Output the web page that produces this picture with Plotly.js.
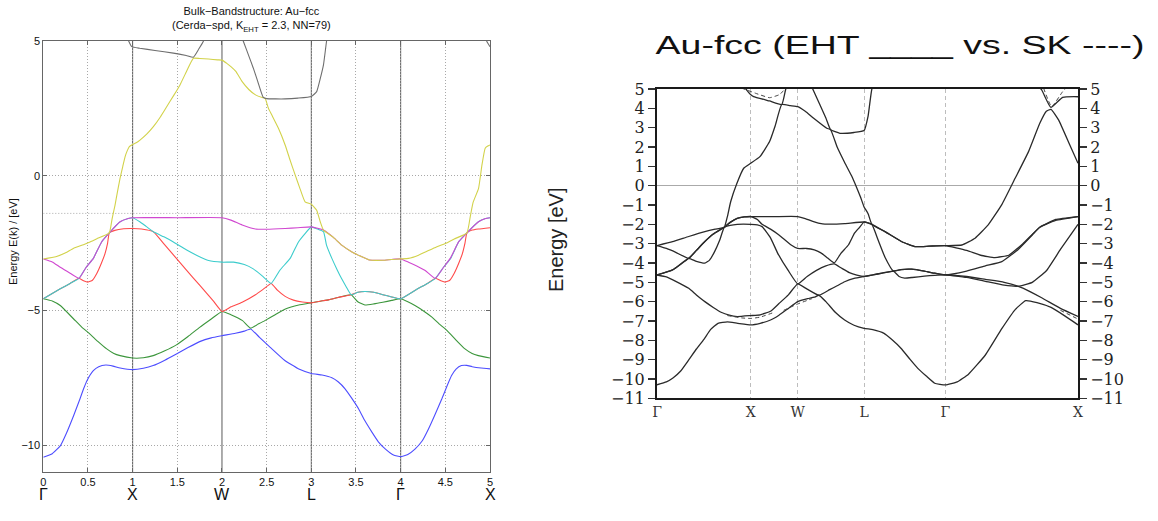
<!DOCTYPE html>
<html><head><meta charset="utf-8">
<script src="https://cdn.plot.ly/plotly-3.0.1.min.js"></script>
<style>html,body{margin:0;padding:0;background:#fff}#chart{width:1158px;height:521px}</style>
</head><body><div id="chart"></div>
<script>
// ---------- LEFT PANEL: EHT band structure (coloured) ----------
const lSymK = [0, 1, 2, 3, 4, 5];
const lSymLabels = ['Γ', 'X', 'W', 'L', 'Γ', 'X'];
const lYTicks = [-10, -5, 0, 5];
const fermiE = -1.4;

const lBlueK = [0,0.1,0.19,0.26,0.34,0.41,0.45,0.49,0.56,0.62,0.7,0.78,0.86,1.0,1.12,1.23,1.36,1.49,1.62,1.75,1.88,2.0,2.15,2.25,2.32,2.42,2.54,2.7,2.86,3.0,3.12,3.23,3.3,3.38,3.45,3.53,3.6,3.68,3.75,3.83,3.92,4.0,4.08,4.16,4.24,4.31,4.38,4.46,4.52,4.57,4.62,4.68,4.74,4.8,4.9,5.0];
const lBlueE = [-10.45,-10.32,-10.03,-9.55,-8.9,-8.29,-7.92,-7.6,-7.24,-7.09,-7.03,-7.07,-7.14,-7.2,-7.15,-7.05,-6.85,-6.62,-6.38,-6.16,-6.02,-5.94,-5.85,-5.77,-5.69,-6.0,-6.37,-6.85,-7.18,-7.34,-7.4,-7.5,-7.65,-7.92,-8.25,-8.66,-9.1,-9.53,-9.88,-10.15,-10.37,-10.43,-10.35,-10.15,-9.85,-9.41,-8.9,-8.29,-7.8,-7.42,-7.18,-7.05,-7.04,-7.09,-7.14,-7.17];

const lGreenK = [0,0.1,0.19,0.34,0.43,0.52,0.61,0.71,0.79,0.86,1.0,1.12,1.23,1.36,1.49,1.62,1.75,1.88,2.0,2.1,2.23,2.32,2.4,2.48,2.6,2.71,2.86,3.0,3.1,3.2,3.3,3.446,3.52,3.6,3.7,3.8,3.9,4.0,4.08,4.16,4.26,4.35,4.43,4.52,4.62,4.72,4.8,4.87,5.0];
const lGreenE = [-4.57,-4.65,-4.82,-5.32,-5.62,-5.87,-6.15,-6.43,-6.6,-6.68,-6.77,-6.76,-6.68,-6.5,-6.28,-5.97,-5.63,-5.32,-5.04,-5.16,-5.38,-5.66,-5.52,-5.38,-5.15,-4.95,-4.8,-4.72,-4.66,-4.6,-4.52,-4.42,-4.68,-4.8,-4.76,-4.7,-4.63,-4.57,-4.68,-4.82,-5.03,-5.25,-5.5,-5.75,-6.1,-6.43,-6.6,-6.68,-6.77];

const lRedK = [0,0.19,0.3,0.4,0.45,0.5,0.55,0.6,0.65,0.69,0.72,0.739,0.8,0.9,1.0,1.1,1.232,1.35,1.456,1.6,1.755,1.9,2.0,2.1,2.226,2.375,2.46,2.55,2.62,2.707,2.8,2.9,3.0,3.1,3.2,3.3,3.446,3.52,3.6,3.7,3.8,3.9,4.0,4.19,4.3,4.39,4.45,4.5,4.55,4.6,4.65,4.69,4.72,4.742,4.8,4.87,5.0];
const lRedE = [-4.57,-4.2,-4.0,-3.81,-3.9,-3.95,-3.88,-3.62,-3.25,-2.9,-2.5,-2.12,-2.03,-1.97,-1.96,-1.98,-2.08,-2.53,-2.94,-3.5,-4.08,-4.64,-5.04,-4.87,-4.7,-4.42,-4.22,-4.0,-4.25,-4.48,-4.62,-4.69,-4.72,-4.66,-4.6,-4.52,-4.42,-4.33,-4.3,-4.33,-4.42,-4.5,-4.57,-4.2,-4.0,-3.81,-3.9,-3.95,-3.88,-3.62,-3.25,-2.9,-2.5,-2.12,-2.02,-1.98,-1.93];

const lCyanK = [0,0.19,0.3,0.4,0.48,0.56,0.654,0.739,0.86,0.95,1.0,1.08,1.15,1.232,1.35,1.456,1.6,1.72,1.85,2.0,2.13,2.25,2.35,2.45,2.55,2.65,2.763,2.856,2.93,3.0,3.06,3.136,3.17,3.23,3.29,3.34,3.39,3.446,3.52,3.6,3.7,3.8,3.9,4.0,4.19,4.3,4.39,4.48,4.56,4.65,4.742,4.87,4.95,5.0];
const lCyanE = [-4.57,-4.2,-4.0,-3.81,-3.4,-3.07,-2.45,-2.12,-1.71,-1.59,-1.56,-1.71,-1.88,-2.08,-2.27,-2.46,-2.75,-2.96,-3.15,-3.21,-3.21,-3.3,-3.46,-3.72,-4.0,-3.5,-3.07,-2.46,-2.15,-1.9,-1.97,-2.08,-2.58,-3.07,-3.5,-3.83,-4.12,-4.42,-4.33,-4.3,-4.33,-4.42,-4.5,-4.57,-4.2,-4.0,-3.81,-3.4,-3.07,-2.45,-2.12,-1.71,-1.59,-1.56];

const lMagK = [0,0.1,0.19,0.3,0.4,0.48,0.56,0.654,0.739,0.86,0.95,1.0,1.5,2.0,2.1,2.226,2.375,2.5,2.707,2.85,3.0,3.07,3.136,3.25,3.34,3.45,3.565,3.65,3.8,3.9,4.0,4.088,4.18,4.275,4.387,4.48,4.555,4.65,4.742,4.872,4.95,5.0];
const lMagE = [-3.09,-3.2,-3.4,-3.62,-3.81,-3.4,-3.07,-2.45,-2.12,-1.71,-1.59,-1.56,-1.56,-1.56,-1.65,-1.83,-1.98,-1.99,-1.96,-1.93,-1.9,-1.95,-2.02,-2.3,-2.58,-2.82,-3.01,-3.13,-3.14,-3.11,-3.09,-3.21,-3.35,-3.52,-3.81,-3.4,-3.07,-2.45,-2.12,-1.71,-1.59,-1.56];

const lYelK = [0,0.14,0.25,0.336,0.45,0.523,0.6,0.739,0.77,0.803,0.83,0.859,0.89,0.915,0.94,0.963,1.0,1.04,1.082,1.16,1.232,1.31,1.381,1.46,1.53,1.6,1.68,1.75,1.85,1.95,2.0,2.05,2.1,2.155,2.226,2.3,2.375,2.45,2.483,2.52,2.558,2.632,2.707,2.76,2.82,2.87,2.93,3.0,3.06,3.1,3.136,3.25,3.34,3.45,3.565,3.65,3.8,3.9,4.0,4.088,4.2,4.3,4.4,4.5,4.6,4.742,4.78,4.81,4.872,4.91,4.946,4.975,5.0];
const lYelE = [-3.09,-3.01,-2.86,-2.7,-2.56,-2.46,-2.34,-2.12,-1.6,-1.09,-0.6,-0.1,0.35,0.7,0.93,1.08,1.16,1.22,1.32,1.55,1.82,2.18,2.56,2.98,3.37,3.85,4.36,4.35,4.33,4.3,4.29,4.18,4.05,3.87,3.49,3.2,3.0,2.9,2.87,2.5,2.25,1.76,1.14,0.6,0.02,-0.45,-0.97,-1.06,-1.28,-1.71,-2.02,-2.3,-2.58,-2.82,-3.01,-3.13,-3.14,-3.11,-3.09,-3.07,-2.95,-2.8,-2.65,-2.52,-2.35,-2.12,-1.5,-1.0,-0.47,0.4,1.02,1.1,1.14];

const lBlackK = [0,0.5,0.9,0.95,0.99,1.08,1.25,1.456,1.6,1.68,1.74,1.79,1.85,2.0,2.18,2.24,2.3,2.35,2.4,2.46,2.5,2.6,2.707,2.85,3.0,3.06,3.1,3.136,3.17,3.22,3.5,4.0,4.5,4.9,4.965,5.0];
const lBlackE = [8.0,6.5,5.5,5.04,4.79,4.73,4.65,4.55,4.46,4.40,4.7,4.98,5.5,6.5,5.5,4.98,4.45,4.0,3.5,2.92,2.86,2.85,2.85,2.88,2.94,3.12,3.6,4.11,4.98,6.0,8.0,9.0,7.5,5.5,4.98,4.79];

// ---------- RIGHT PANEL: EHT (solid) vs SK (dashed) ----------
const rSymK = [0, 1, 1.5, 2.2071, 3.0731, 4.4873];
const rSymLabels = ['Γ', 'X', 'W', 'L', 'Γ', 'X'];
const rYTicks = [-11,-10,-9,-8,-7,-6,-5,-4,-3,-2,-1,0,1,2,3,4,5];

const rB1K = [0,0.1,0.17,0.25,0.34,0.42,0.5,0.57,0.65,0.75,0.86,1.0,1.1,1.21,1.3,1.4,1.5,1.606,1.677,1.726,1.8,1.9,2.0,2.1,2.207,2.3,2.42,2.5,2.6,2.7,2.78,2.87,2.96,3.0731,3.2,3.32,3.5,3.675,3.82,3.93,4.05,4.2,4.35,4.4873];
const rB1E = [-10.3,-10.15,-9.95,-9.6,-9.0,-8.45,-7.95,-7.45,-7.12,-7.05,-7.12,-7.2,-7.12,-6.95,-6.7,-6.35,-6.0,-5.85,-5.77,-5.67,-6.0,-6.55,-6.95,-7.22,-7.38,-7.45,-7.64,-7.95,-8.41,-9.0,-9.45,-9.85,-10.22,-10.31,-10.15,-9.75,-8.76,-7.4,-6.4,-5.95,-6.05,-6.3,-6.75,-7.2];

const rB2K = [0,0.1,0.2,0.338,0.42,0.51,0.6,0.683,0.77,0.855,1.0,1.1,1.21,1.3,1.4,1.5,1.6,1.726,1.84,1.92,2.0,2.1,2.207,2.3,2.4,2.52,2.58,2.64,2.72,2.85,2.96,3.0731,3.3,3.5,3.7,3.9,4.1,4.3,4.4873];
const rB2E = [-4.62,-4.72,-4.95,-5.31,-5.65,-6.0,-6.3,-6.55,-6.7,-6.77,-6.72,-6.68,-6.5,-6.1,-5.65,-5.08,-5.35,-5.67,-5.38,-5.18,-4.97,-4.8,-4.7,-4.62,-4.52,-4.42,-4.7,-4.78,-4.75,-4.68,-4.64,-4.62,-4.7,-4.85,-5.0,-5.3,-5.8,-6.35,-6.77];

const rB3K = [0,0.166,0.338,0.42,0.51,0.56,0.614,0.67,0.717,0.78,0.855,1.0,1.07,1.12,1.21,1.287,1.4,1.5,1.6,1.7,1.8,1.889,1.96,2.05,2.13,2.207,2.3,2.4,2.52,2.6,2.715,2.85,2.96,3.0731,3.3,3.5,3.7,3.85,4.0,4.15,4.3,4.4873];
const rB3E = [-4.62,-4.36,-3.76,-3.92,-4.01,-3.85,-3.41,-2.8,-2.15,-2.05,-2.0,-2.0,-2.03,-2.12,-2.7,-3.5,-4.4,-5.08,-4.7,-4.38,-4.15,-4.05,-4.25,-4.5,-4.63,-4.7,-4.62,-4.52,-4.42,-4.34,-4.32,-4.42,-4.53,-4.62,-4.75,-4.95,-5.15,-5.2,-5.0,-4.4,-3.3,-2.0];

const rB4K = [0,0.166,0.338,0.42,0.51,0.6,0.717,0.78,0.855,0.93,1.0,1.07,1.12,1.21,1.3,1.43,1.5,1.592,1.677,1.747,1.818,1.889,1.96,2.04,2.105,2.16,2.207,2.25,2.29,2.36,2.43,2.52,2.6,2.715,2.85,2.96,3.0731,3.3,3.5,3.675,3.85,4.0,4.08,4.25,4.4873];
const rB4E = [-4.62,-4.36,-3.76,-3.35,-2.89,-2.5,-2.15,-1.9,-1.69,-1.62,-1.6,-1.75,-2.0,-2.25,-2.55,-3.07,-3.25,-3.25,-3.32,-3.48,-3.74,-4.0,-3.5,-3.07,-2.46,-2.15,-1.88,-1.93,-2.0,-2.85,-3.7,-4.42,-4.34,-4.32,-4.42,-4.53,-4.62,-4.42,-4.15,-3.93,-3.3,-2.55,-2.15,-1.8,-1.6];

const rB5K = [0,0.1,0.2,0.338,0.42,0.51,0.6,0.717,0.78,0.855,0.93,1.0,1.25,1.5,1.58,1.66,1.765,1.854,2.0,2.207,2.25,2.29,2.43,2.61,2.75,2.9,3.0731,3.3,3.45,3.6,3.75,3.9,4.08,4.25,4.4873];
const rB5E = [-3.1,-3.25,-3.45,-3.76,-3.35,-2.89,-2.5,-2.15,-1.9,-1.69,-1.62,-1.6,-1.6,-1.6,-1.7,-1.85,-1.98,-1.99,-1.96,-1.88,-1.93,-2.0,-2.38,-2.9,-3.15,-3.13,-3.1,-3.35,-3.6,-3.72,-3.6,-3.0,-2.15,-1.75,-1.6];

const rB6K = [0,0.166,0.338,0.51,0.62,0.717,0.75,0.786,0.85,0.924,1.0,1.097,1.2,1.26,1.33,1.42,1.5,1.58,1.67,1.81,1.85,1.92,2.0,2.08,2.12,2.17,2.207,2.25,2.29,2.43,2.61,2.75,2.9,3.0731,3.25,3.39,3.53,3.675,3.817,3.96,4.08,4.15,4.2,4.28,4.4,4.4873];
const rB6E = [-3.1,-2.9,-2.63,-2.38,-2.25,-2.15,-1.6,-0.82,0.1,0.9,1.16,1.5,2.28,3.1,4.2,4.14,4.09,3.85,3.49,2.97,2.9,2.0,1.2,0.45,0.0,-0.6,-1.1,-1.45,-2.0,-2.38,-2.9,-3.15,-3.13,-3.1,-3.07,-2.72,-2.03,-0.98,0.38,1.76,3.23,3.85,3.95,3.4,2.1,1.16];

const rB7K = [0,0.5,0.85,0.956,1.0,1.03,1.2,1.33,1.37,1.42,1.5,1.6,1.66,1.8,1.85,1.95,2.1,2.207,2.25,2.29,2.4,2.7,3.0731,3.6,4.0,4.1,4.198,4.323,4.4873];
const rB7E = [9.0,7.5,5.6,4.95,4.7,4.61,4.38,4.2,4.95,5.8,6.5,5.6,5.0,3.5,2.9,2.71,2.75,2.85,3.6,5.0,6.5,8.0,9.0,7.0,5.5,4.95,4.05,4.57,4.6];

// SK (dashed) pieces where they visibly depart from EHT
const skTopK = [0.9,1.05,1.2,1.3,1.38];      const skTopE = [5.05,4.78,4.55,4.7,5.05];
const skXK = [0.75,0.9,1.0,1.1,1.25];         const skXE = [-6.72,-6.84,-6.87,-6.8,-6.55];
const skWK = [1.35,1.5,1.65];                 const skWE = [-6.45,-6.12,-5.85];
const skKK = [4.12,4.206,4.323,4.36];         const skKE = [5.05,4.09,4.86,5.05];
const skXendK = [4.3,4.4873];                 const skXendE = [-6.45,-6.9];

// ---------- build ----------
const leftBands = [
  [lBlueK, lBlueE, '#4d4dff'],
  [lGreenK, lGreenE, '#3c963c'],
  [lRedK, lRedE, '#ff4a4a'],
  [lCyanK, lCyanE, '#3ccccc'],
  [lMagK, lMagE, '#d048d0'],
  [lYelK, lYelE, '#d2d24a'],
  [lBlackK, lBlackE, '#6e6e6e']
];
const rightBands = [[rB1K,rB1E],[rB2K,rB2E],[rB3K,rB3E],[rB4K,rB4E],[rB5K,rB5E],[rB6K,rB6E],[rB7K,rB7E]];
const skPieces = [[skTopK,skTopE],[skXK,skXE],[skWK,skWE],[skKK,skKE],[skXendK,skXendE]];

const traces = [];
leftBands.forEach(b => traces.push({
  x: b[0], y: b[1], xaxis: 'x', yaxis: 'y', mode: 'lines',
  line: {color: b[2], width: 1.1, shape: 'spline', smoothing: 0.4},
  hoverinfo: 'skip', showlegend: false
}));
rightBands.forEach(b => traces.push({
  x: b[0], y: b[1], xaxis: 'x2', yaxis: 'y2', mode: 'lines',
  line: {color: '#2a2a2a', width: 1.3, shape: 'spline', smoothing: 0.4},
  hoverinfo: 'skip', showlegend: false
}));
skPieces.forEach(b => traces.push({
  x: b[0], y: b[1], xaxis: 'x2', yaxis: 'y2', mode: 'lines',
  line: {color: '#444', width: 1, dash: '4px,3px', shape: 'spline', smoothing: 0.4},
  hoverinfo: 'skip', showlegend: false
}));
// helper so the mirrored right-hand axis is drawn
traces.push({x: [rSymK[0]], y: [rB1E[0]], xaxis: 'x2', yaxis: 'y3', mode: 'markers',
  marker: {opacity: 0}, hoverinfo: 'skip', showlegend: false});

const W = 1158, H = 521;
const shapes = [];
lSymK.slice(1, -1).forEach(k => shapes.push({
  type: 'line', xref: 'x', yref: 'y', x0: k, x1: k, y0: -11, y1: 5,
  line: {color: '#5a5a5a', width: 1}, layer: 'below'
}));
shapes.push({type: 'line', xref: 'x', yref: 'y', x0: 0, x1: 5, y0: fermiE, y1: fermiE,
  line: {color: '#aaa', width: 1, dash: '1px,2px'}, layer: 'below'});

const annotations = [];
lSymK.forEach((k, i) => annotations.push({
  x: k, xref: 'x', y: 1 - 494 / H, yref: 'paper', text: lSymLabels[i], showarrow: false,
  font: {family: 'Liberation Sans, Arial', size: 16, color: '#111'}, xanchor: 'center', yanchor: 'middle'
}));
annotations.push({
  x: 251 / W, y: 1 - 20 / H, xref: 'paper', yref: 'paper', showarrow: false,
  xanchor: 'center', yanchor: 'middle',
  text: 'Bulk−Bandstructure: Au−fcc<br>(Cerda−spd, K<sub>EHT</sub> = 2.3, NN=79)',
  font: {family: 'Liberation Sans, Arial', size: 11, color: '#111'}, align: 'center'
});
annotations.push({
  x: 13 / W, y: 1 - 242 / H, xref: 'paper', yref: 'paper', showarrow: false, textangle: -90,
  xanchor: 'center', yanchor: 'middle',
  text: 'Energy E(k) / [eV]', font: {family: 'Liberation Sans, Arial', size: 11, color: '#111'}
});
annotations.push({
  x: 900 / W, y: 1 - 45 / H, xref: 'paper', yref: 'paper', showarrow: false,
  xanchor: 'center', yanchor: 'middle',
  text: 'Au-fcc (EHT ____ vs. SK ----)', font: {family: 'Liberation Sans, Arial', size: 25, color: '#111'}
});
annotations.push({
  x: 556 / W, y: 1 - 240 / H, xref: 'paper', yref: 'paper', showarrow: false, textangle: -90,
  xanchor: 'center', yanchor: 'middle',
  text: 'Energy [eV]', font: {family: 'Liberation Sans, Arial', size: 20, color: '#222'}
});

const tickFontL = {family: 'Liberation Sans, Arial', size: 11, color: '#111'};
const serif = {family: 'DejaVu Serif, Liberation Serif, serif', size: 16, color: '#222'};

const layout = {
  width: W, height: H, margin: {l: 0, r: 0, t: 0, b: 0},
  paper_bgcolor: '#fff', plot_bgcolor: '#fff', showlegend: false,
  xaxis: {
    domain: [43.3 / W, 490 / W], anchor: 'y', range: [0, 5], dtick: 0.5, tick0: 0,
    showgrid: true, gridcolor: '#a8a8a8', griddash: '1px,2px', gridwidth: 1, zeroline: false,
    showline: true, linecolor: '#666', linewidth: 1, mirror: 'ticks',
    ticks: 'inside', ticklen: 4, tickcolor: '#666', tickfont: tickFontL
  },
  yaxis: {
    domain: [1 - 472 / H, 1 - 41 / H], anchor: 'x', range: [-11, 5], tickvals: lYTicks,
    showgrid: true, gridcolor: '#a8a8a8', griddash: '1px,2px', gridwidth: 1, zeroline: false,
    showline: true, linecolor: '#666', linewidth: 1, mirror: 'ticks',
    ticks: 'inside', ticklen: 4, tickcolor: '#666', tickfont: tickFontL
  },
  xaxis2: {
    domain: [657 / W, 1078 / W], anchor: 'y2', range: [0, rSymK[rSymK.length - 1]],
    tickvals: rSymK, ticktext: rSymLabels, ticks: '',
    showgrid: true, gridcolor: '#bdbdbd', griddash: '4px,3px', gridwidth: 1, zeroline: false,
    showline: true, linecolor: '#1a1a1a', linewidth: 2, mirror: true,
    tickfont: {family: 'DejaVu Serif, serif', size: 14, color: '#333'}
  },
  yaxis2: {
    domain: [1 - 398.3 / H, 1 - 89 / H], anchor: 'x2', range: [-11, 5], tickvals: rYTicks,
    showgrid: false, zeroline: true, zerolinecolor: '#aaa', zerolinewidth: 1,
    showline: true, linecolor: '#1a1a1a', linewidth: 2,
    ticks: 'outside', ticklen: 7, tickwidth: 1.5, tickcolor: '#333', tickfont: serif
  },
  yaxis3: {
    overlaying: 'y2', side: 'right', anchor: 'x2', range: [-11, 5], tickvals: rYTicks,
    showgrid: false, zeroline: false, showline: true, linecolor: '#1a1a1a', linewidth: 2,
    ticks: 'outside', ticklen: 7, tickwidth: 1.5, tickcolor: '#333', tickfont: serif
  },
  shapes: shapes,
  annotations: annotations
};

Plotly.newPlot('chart', traces, layout, {displayModeBar: false, staticPlot: true}).then(gd => {
  // the reference title is drawn horizontally stretched; widen it around its centre
  gd.querySelectorAll('text.annotation-text').forEach(t => {
    if (t.textContent.indexOf('Au-fcc') === 0) {
      const bb = t.getBBox();
      const cx = bb.x + bb.width / 2, s = 1.5;
      t.setAttribute('transform', 'translate(' + (-(s - 1) * cx) + ',0) scale(' + s + ',1)');
    }
  });
});
</script></body></html>
